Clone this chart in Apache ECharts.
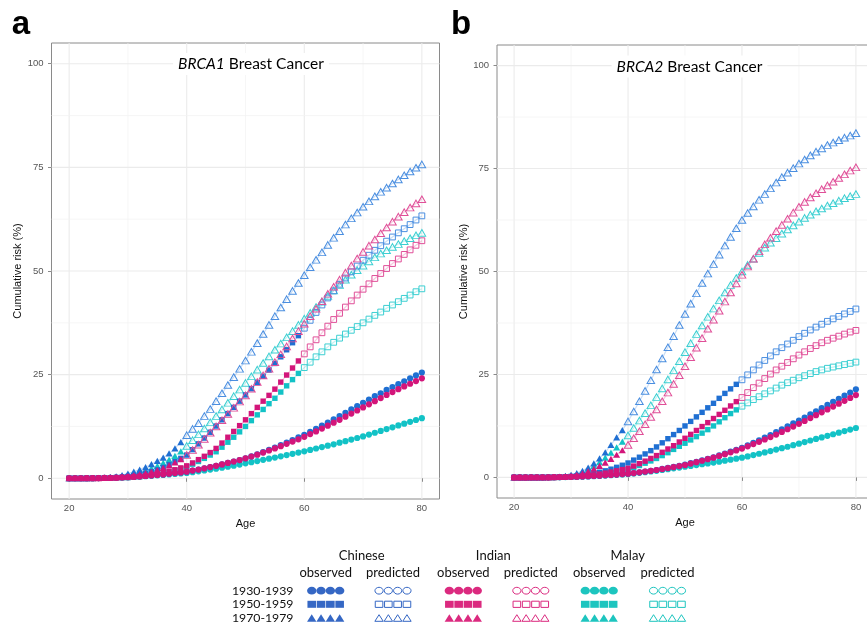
<!DOCTYPE html>
<html><head><meta charset="utf-8">
<script src="https://cdn.jsdelivr.net/npm/echarts@6/dist/echarts.min.js"></script>
<style>html,body{margin:0;padding:0;background:#fff}#c{width:867px;height:624px}</style>
</head><body><div id="c"></div>
<script>
const ages = [20,21,22,23,24,25,26,27,28,29,30,31,32,33,34,35,36,37,38,39,40,
  41,42,43,44,45,46,47,48,49,50,51,52,53,54,55,56,57,58,59,60,
  61,62,63,64,65,66,67,68,69,70,71,72,73,74,75,76,77,78,79,80];
const xTicks = [20,40,60,80];
const yTicks = [0,25,50,75,100];
const xGridMajor = [20,40,60,80];
const xGridMinor = [30,50,70];
const yGridMajor = [0,25,50,75,100];
const yGridMinor = [12.5,37.5,62.5,87.5];
const ethnicities = ['Chinese','Indian','Malay'];
const cohorts = ['1930-1939','1950-1959','1970-1979'];
const lastObservedAge = [80,59,39];
const panelGenes = ['BRCA1','BRCA2'];
const panelLetters = ['a','b'];

// ---------- BRCA1 ----------
const brca1_chinese_1930 = [0,0,0.01,0.02,0.03,0.05,0.08,0.12,0.17,0.23,0.3,
 0.38,0.47,0.57,0.68,0.8,0.94,1.09,1.25,1.42,1.6,
 1.85,2.1,2.4,2.7,3.0,3.35,3.7,4.05,4.4,4.8,
 5.3,5.8,6.3,6.85,7.4,8.0,8.6,9.2,9.85,10.5,
 11.2,11.9,12.7,13.4,14.2,15.0,15.8,16.6,17.4,18.2,
 19.0,19.8,20.5,21.3,22.0,22.7,23.4,24.1,24.8,25.5];
const brca1_chinese_1950 = [0,0,0,0.01,0.02,0.04,0.07,0.12,0.19,0.28,0.4,
 0.6,0.85,1.2,1.6,2.0,2.6,3.3,4.0,4.8,5.6,
 6.9,8.3,9.7,11.1,12.6,14.1,15.6,17.1,18.6,20.1,
 21.6,23.1,24.6,26.1,27.7,29.3,31.0,32.7,34.4,36.2,
 38.1,40.0,41.8,43.5,45.2,46.8,48.3,49.8,51.2,52.6,
 53.8,55.0,56.1,57.2,58.2,59.2,60.2,61.2,62.3,63.3];
const brca1_chinese_1970 = [0,0,0.01,0.03,0.06,0.1,0.17,0.28,0.45,0.75,1.15,
 1.6,2.1,2.7,3.4,4.2,5.0,6.0,7.2,8.7,10.4,
 11.9,13.3,15.0,16.7,18.6,20.5,22.5,24.4,26.4,28.4,
 30.5,32.6,34.8,37.0,39.1,41.2,43.2,45.2,47.1,49.0,
 50.9,52.7,54.5,56.3,58.0,59.6,61.2,62.7,64.1,65.5,
 66.8,68.0,69.1,70.1,71.1,72.1,73.1,74.0,74.9,75.7];
const brca1_indian_1930 = [0,0,0.01,0.02,0.03,0.05,0.08,0.12,0.17,0.23,0.3,
 0.38,0.47,0.57,0.68,0.8,0.94,1.09,1.25,1.42,1.6,
 1.85,2.1,2.4,2.7,3.0,3.35,3.7,4.05,4.4,4.8,
 5.25,5.7,6.2,6.7,7.2,7.75,8.3,8.85,9.4,10.0,
 10.65,11.3,12.0,12.7,13.4,14.1,14.85,15.6,16.35,17.1,
 17.85,18.6,19.35,20.1,20.8,21.5,22.15,22.8,23.45,24.1];
const brca1_indian_1950 = [0,0,0,0.01,0.02,0.03,0.05,0.08,0.12,0.16,0.2,
 0.3,0.42,0.58,0.78,1.0,1.3,1.65,2.05,2.5,3.0,
 3.7,4.5,5.3,6.2,7.2,8.5,9.9,11.3,12.7,14.1,
 15.6,17.1,18.6,20.0,21.5,23.2,24.9,26.6,28.3,30.0,
 31.7,33.4,35.1,36.7,38.3,39.8,41.3,42.8,44.2,45.6,
 46.9,48.2,49.4,50.6,51.8,52.9,54.0,55.1,56.2,57.3];
const brca1_indian_1970 = [0,0,0,0.01,0.03,0.05,0.09,0.15,0.24,0.36,0.5,
 0.7,0.95,1.25,1.6,2.0,2.5,3.1,3.8,4.6,5.6,
 6.8,8.1,9.5,11.0,12.5,14.0,15.5,17.0,18.5,20.0,
 21.6,23.2,24.8,26.4,28.0,29.9,31.8,33.7,35.5,37.3,
 39.1,40.9,42.7,44.5,46.2,47.9,49.6,51.3,53.0,54.6,
 56.1,57.6,59.1,60.5,61.9,63.1,64.2,65.3,66.3,67.3];
const brca1_malay_1930 = [0,0,0.01,0.02,0.03,0.05,0.07,0.1,0.14,0.19,0.25,
 0.32,0.4,0.49,0.59,0.7,0.81,0.93,1.05,1.17,1.3,
 1.48,1.67,1.88,2.09,2.3,2.55,2.8,3.05,3.3,3.6,
 3.88,4.16,4.44,4.72,5.0,5.3,5.6,5.9,6.2,6.5,
 6.84,7.18,7.52,7.86,8.2,8.58,8.96,9.34,9.72,10.1,
 10.54,10.98,11.42,11.86,12.3,12.74,13.18,13.62,14.06,14.5];
const brca1_malay_1950 = [0,0,0,0.01,0.02,0.03,0.04,0.06,0.09,0.12,0.15,
 0.24,0.36,0.51,0.69,0.9,1.2,1.55,1.95,2.35,2.8,
 3.4,4.05,4.8,5.6,6.4,7.5,8.7,9.9,11.2,12.5,
 13.9,15.3,16.6,18.0,19.3,20.8,22.3,23.8,25.3,26.7,
 28.0,29.3,30.5,31.7,32.8,33.8,34.8,35.7,36.6,37.5,
 38.4,39.3,40.1,41.0,41.8,42.6,43.4,44.2,45.0,45.7];
const brca1_malay_1970 = [0,0,0.01,0.02,0.04,0.07,0.12,0.2,0.33,0.52,0.8,
 1.1,1.45,1.9,2.4,3.0,3.7,4.5,5.4,6.5,7.8,
 9.2,10.6,12.0,13.5,15.0,16.6,18.2,19.8,21.4,23.0,
 24.6,26.2,27.8,29.4,31.0,32.5,34.0,35.5,37.0,38.5,
 39.9,41.3,42.6,44.0,45.3,46.6,47.9,49.1,50.2,51.3,
 52.3,53.3,54.2,55.0,55.8,56.5,57.2,57.9,58.6,59.2];

// ---------- BRCA2 ----------
const brca2_chinese_1930 = [0,0,0,0.01,0.01,0.02,0.03,0.05,0.07,0.1,0.13,
 0.17,0.22,0.28,0.35,0.43,0.52,0.61,0.7,0.8,0.9,
 1.06,1.23,1.41,1.6,1.8,2.05,2.3,2.55,2.82,3.1,
 3.45,3.8,4.15,4.52,4.9,5.35,5.8,6.25,6.72,7.2,
 7.8,8.4,9.0,9.65,10.3,11.0,11.7,12.4,13.1,13.8,
 14.55,15.3,16.05,16.8,17.6,18.35,19.1,19.85,20.6,21.4];
const brca2_chinese_1950 = [0,0,0,0.01,0.02,0.03,0.04,0.06,0.1,0.17,0.25,
 0.35,0.5,0.7,0.95,1.25,1.6,2.0,2.45,2.95,3.5,
 4.2,4.9,5.7,6.5,7.4,8.4,9.4,10.4,11.4,12.5,
 13.6,14.7,15.8,16.9,18.0,19.2,20.4,21.5,22.6,23.7,
 24.9,26.1,27.3,28.4,29.5,30.5,31.5,32.4,33.3,34.2,
 35.0,35.8,36.5,37.2,37.9,38.5,39.1,39.7,40.3,40.9];
const brca2_chinese_1970 = [0,0,0,0,0.01,0.02,0.05,0.1,0.2,0.38,0.65,
 1.05,1.6,2.4,3.4,4.6,6.1,7.9,9.7,11.5,13.6,
 16.0,18.5,21.0,23.6,26.2,28.9,31.6,34.3,37.0,39.7,
 42.2,44.7,47.2,49.5,51.8,54.1,56.3,58.4,60.5,62.5,
 64.2,65.8,67.4,68.8,70.2,71.6,72.9,74.0,75.1,76.2,
 77.2,78.2,79.1,79.9,80.7,81.3,81.9,82.5,83.0,83.6];
const brca2_indian_1930 = [0,0,0,0.01,0.01,0.02,0.03,0.05,0.07,0.1,0.13,
 0.17,0.22,0.28,0.35,0.43,0.52,0.61,0.7,0.8,0.9,
 1.06,1.23,1.41,1.6,1.8,2.03,2.27,2.5,2.75,3.0,
 3.35,3.7,4.05,4.42,4.8,5.22,5.65,6.1,6.55,7.0,
 7.55,8.1,8.65,9.2,9.8,10.4,11.05,11.7,12.35,13.0,
 13.7,14.4,15.1,15.8,16.5,17.2,17.9,18.6,19.3,20.0];
const brca2_indian_1950 = [0,0,0,0.01,0.01,0.02,0.03,0.05,0.07,0.1,0.15,
 0.22,0.31,0.43,0.6,0.8,1.05,1.3,1.6,1.9,2.2,
 2.75,3.35,3.95,4.6,5.3,6.1,6.9,7.7,8.6,9.5,
 10.45,11.4,12.35,13.3,14.3,15.3,16.3,17.35,18.4,19.4,
 20.6,21.8,22.9,24.0,25.1,26.1,27.0,27.9,28.8,29.7,
 30.5,31.3,32.0,32.7,33.3,33.8,34.3,34.8,35.3,35.7];
const brca2_indian_1970 = [0,0,0,0,0.01,0.02,0.03,0.06,0.1,0.2,0.4,
 0.6,1.0,1.5,2.1,2.8,3.6,4.5,5.5,6.6,7.9,
 9.5,11.2,12.9,14.7,16.5,18.5,20.6,22.7,24.8,27.0,
 29.2,31.5,33.8,36.1,38.3,40.5,42.7,44.9,47.1,49.2,
 51.2,53.1,54.9,56.6,58.2,59.8,61.3,62.8,64.3,65.7,
 66.9,68.0,69.0,70.0,70.9,71.8,72.7,73.6,74.5,75.3];
const brca2_malay_1930 = [0,0,0,0.01,0.01,0.02,0.03,0.04,0.06,0.08,0.11,
 0.15,0.19,0.24,0.3,0.37,0.45,0.53,0.62,0.71,0.8,
 0.95,1.11,1.27,1.43,1.6,1.8,2.0,2.2,2.4,2.6,
 2.8,3.0,3.2,3.4,3.6,3.83,4.06,4.3,4.55,4.8,
 5.1,5.42,5.74,6.07,6.4,6.75,7.1,7.45,7.82,8.2,
 8.58,8.96,9.34,9.72,10.1,10.48,10.86,11.24,11.62,12.0];
const brca2_malay_1950 = [0,0,0,0,0.01,0.02,0.03,0.04,0.06,0.08,0.1,
 0.17,0.26,0.38,0.53,0.7,0.9,1.12,1.37,1.63,1.9,
 2.4,2.9,3.45,4.0,4.6,5.3,6.0,6.8,7.55,8.3,
 9.1,9.9,10.75,11.6,12.5,13.5,14.5,15.5,16.4,17.3,
 18.1,18.9,19.6,20.3,21.0,21.7,22.4,23.0,23.6,24.2,
 24.7,25.2,25.7,26.1,26.5,26.8,27.1,27.4,27.7,28.0];
const brca2_malay_1970 = [0,0,0,0,0.01,0.02,0.04,0.08,0.15,0.3,0.5,
 0.8,1.3,2.0,2.8,3.7,4.8,6.0,7.3,8.7,10.2,
 12.0,13.8,15.6,17.5,19.5,21.6,23.8,26.0,28.2,30.4,
 32.6,34.8,36.9,39.0,41.0,43.0,44.9,46.7,48.4,50.0,
 51.6,53.1,54.5,55.8,57.0,58.1,59.2,60.2,61.2,62.1,
 63.0,63.8,64.6,65.3,66.0,66.6,67.2,67.8,68.3,68.8];

const curves = [
  { Chinese: [brca1_chinese_1930, brca1_chinese_1950, brca1_chinese_1970],
    Indian:  [brca1_indian_1930, brca1_indian_1950, brca1_indian_1970],
    Malay:   [brca1_malay_1930, brca1_malay_1950, brca1_malay_1970] },
  { Chinese: [brca2_chinese_1930, brca2_chinese_1950, brca2_chinese_1970],
    Indian:  [brca2_indian_1930, brca2_indian_1950, brca2_indian_1970],
    Malay:   [brca2_malay_1930, brca2_malay_1950, brca2_malay_1970] }
];

// ---------- styling ----------
const colors = {
  Chinese: { obs: '#1f6fd2', pred: '#4a8ee0', legend: '#3567c4' },
  Indian:  { obs: '#d3157a', pred: '#e04f98', legend: '#db2a7f' },
  Malay:   { obs: '#12c2c6', pred: '#3ccfd2', legend: '#1dc5bf' }
};
const obsSymbols = [
  { symbol: 'circle', size: 6.2 },
  { symbol: 'rect', size: 5.4 },
  { symbol: 'triangle', size: [7, 6.2] }
];
const predSymbols = [
  { symbol: 'circle', size: 6.2 },
  { symbol: 'rect', size: 5.8 },
  { symbol: 'triangle', size: [7.6, 6.6] }
];
const drawOrder = ['Malay', 'Chinese', 'Indian'];
const grids = [
  { left: 51.5, top: 43, width: 388, height: 456 },
  { left: 497, top: 45, width: 376, height: 453 }
];
const axisGray = '#8a8a8a';
const labelFont = 'Liberation Sans';
const textFont = 'Lato';

const gridOpt = grids.map(g => Object.assign({
  show: true, borderColor: axisGray, borderWidth: 1, backgroundColor: 'transparent',
  outerBoundsMode: 'none', containLabel: false
}, g));

const xAxes = grids.map((g, p) => ({
  type: 'value', gridIndex: p, min: 17, max: 83,
  axisLine: { show: false }, splitLine: { show: false },
  axisTick: { show: true, customValues: xTicks, length: 3.5, inside: false, lineStyle: { color: axisGray, width: 1 } },
  axisLabel: { show: true, customValues: xTicks, color: '#555', fontSize: 9.5, margin: 4.5, fontFamily: labelFont },
  name: 'Age', nameLocation: 'middle', nameGap: 11,
  nameTextStyle: { color: '#111', fontSize: 11, fontFamily: labelFont }
}));
const yAxes = grids.map((g, p) => ({
  type: 'value', gridIndex: p, min: -5, max: 105,
  axisLine: { show: false }, splitLine: { show: false },
  axisTick: { show: true, customValues: yTicks, length: 3.5, lineStyle: { color: axisGray, width: 1 } },
  axisLabel: { show: true, customValues: yTicks, color: '#555', fontSize: 9.5, margin: 8, fontFamily: labelFont },
  name: 'Cumulative risk (%)', nameLocation: 'middle', nameGap: 28, nameRotate: 90,
  nameTextStyle: { color: '#111', fontSize: 11, fontFamily: labelFont }
}));

const series = [];
grids.forEach((g, p) => {
  const gl = [];
  xGridMajor.forEach(v => gl.push([v, 0, 1]));
  xGridMinor.forEach(v => gl.push([v, 0, 0]));
  yGridMajor.forEach(v => gl.push([v, 1, 1]));
  yGridMinor.forEach(v => gl.push([v, 1, 0]));
  series.push({
    type: 'custom', xAxisIndex: p, yAxisIndex: p, z: 0, silent: true, clip: false,
    data: gl,
    renderItem: (params, api) => {
      const v = api.value(0), dir = api.value(1), major = api.value(2);
      let a, b;
      if (dir === 0) { a = api.coord([v, -5]); b = api.coord([v, 105]); }
      else { a = api.coord([17, v]); b = api.coord([83, v]); }
      return { type: 'line', shape: { x1: a[0], y1: a[1], x2: b[0], y2: b[1] },
        style: { stroke: major ? '#ebebeb' : '#f2f2f2', lineWidth: major ? 1.1 : 0.7 } };
    }
  });
  drawOrder.forEach(eth => {
    curves[p][eth].forEach((arr, c) => {
      series.push({
        type: 'line', xAxisIndex: p, yAxisIndex: p, z: 1, silent: true,
        symbol: 'none', showSymbol: false,
        lineStyle: { color: colors[eth].pred, width: 1.2, opacity: 0.3 },
        data: ages.map((a, i) => [a, arr[i]])
      });
    });
  });
  drawOrder.forEach(eth => {
    curves[p][eth].forEach((arr, c) => {
      const obs = [], pred = [];
      ages.forEach((a, i) => { (a <= lastObservedAge[c] ? obs : pred).push([a, arr[i]]); });
      series.push({
        type: 'scatter', name: eth + ' observed ' + cohorts[c], xAxisIndex: p, yAxisIndex: p, z: 3, silent: true,
        symbol: obsSymbols[c].symbol, symbolSize: obsSymbols[c].size,
        itemStyle: { color: colors[eth].obs, opacity: 1 }, data: obs
      });
      if (pred.length) series.push({
        type: 'scatter', name: eth + ' predicted ' + cohorts[c], xAxisIndex: p, yAxisIndex: p, z: 3, silent: true,
        symbol: predSymbols[c].symbol, symbolSize: predSymbols[c].size,
        itemStyle: { color: 'rgba(255,255,255,0)', borderColor: colors[eth].pred, borderWidth: 1, opacity: 1 },
        data: pred
      });
    });
  });
});

// ---------- graphics: panel letters, titles, legend ----------
const graphics = [];
const letterPos = [[21, 25], [461, 25]];
panelLetters.forEach((l, p) => graphics.push({
  type: 'text', x: letterPos[p][0], y: letterPos[p][1],
  style: { text: l, fill: '#000', fontSize: 33, fontWeight: 'bold', fontFamily: labelFont, align: 'center', verticalAlign: 'middle' }
}));
const titlePos = [[251, 64], [689.5, 66.5]];
panelGenes.forEach((gname, p) => graphics.push({
  type: 'text', x: titlePos[p][0], y: titlePos[p][1], z: 10,
  style: {
    text: '{i|' + gname + '} Breast Cancer', fill: '#000', fontSize: 15.5, fontFamily: textFont,
    align: 'center', verticalAlign: 'middle', backgroundColor: '#fff', padding: [3, 5],
    rich: { i: { fontStyle: 'italic', fontSize: 15.5, fontFamily: textFont, fill: '#000' } }
  }
}));

const legendHeadX = [361.7, 493.3, 627.7];
const legendColX = [[325.7, 393], [463.3, 530.8], [599.2, 667.5]];
const legendRowY = [590.7, 604.3, 618];
const legendHeadY = 555.7, legendSubY = 572.7, legendRowLabelX = 293.5;
const lt = (text, x, y, align, size) => ({ type: 'text', x, y,
  style: { text, fill: '#111', fontSize: size || 13, fontFamily: textFont, align: align || 'center', verticalAlign: 'middle' } });
ethnicities.forEach((eth, e) => {
  graphics.push(lt(eth, legendHeadX[e], legendHeadY));
  graphics.push(lt('observed', legendColX[e][0], legendSubY));
  graphics.push(lt('predicted', legendColX[e][1], legendSubY));
});
cohorts.forEach((co, r) => graphics.push(lt(co, legendRowLabelX, legendRowY[r], 'right', 12.3)));
ethnicities.forEach((eth, e) => {
  const col = colors[eth].legend;
  [0, 1].forEach(kind => {
    const cx = legendColX[e][kind];
    cohorts.forEach((co, r) => {
      const cy = legendRowY[r];
      const filled = kind === 0;
      const style = filled ? { fill: col } : { fill: '#fff', stroke: col, lineWidth: 1 };
      for (let k = 0; k < 4; k++) {
        const x = cx + (k - 1.5) * 9.3;
        if (r === 0) graphics.push({ type: 'ellipse', shape: { cx: x, cy, rx: filled ? 4.7 : 4.1, ry: filled ? 3.9 : 3.4 }, style });
        else if (r === 1) graphics.push({ type: 'rect', shape: filled ? { x: x - 4.3, y: cy - 3.5, width: 8.6, height: 7 } : { x: x - 3.8, y: cy - 3.1, width: 7.6, height: 6.2 }, style });
        else graphics.push({ type: 'polygon', shape: { points: filled ? [[x - 4.7, cy + 3.7], [x, cy - 3.7], [x + 4.7, cy + 3.7]] : [[x - 4.2, cy + 3.3], [x, cy - 3.3], [x + 4.2, cy + 3.3]] }, style });
      }
    });
  });
});

const chart = echarts.init(document.getElementById('c'), null, { renderer: 'canvas' });
chart.setOption({
  backgroundColor: '#fff',
  animation: false,
  grid: gridOpt,
  xAxis: xAxes,
  yAxis: yAxes,
  series,
  graphic: { elements: graphics }
});
</script></body></html>
